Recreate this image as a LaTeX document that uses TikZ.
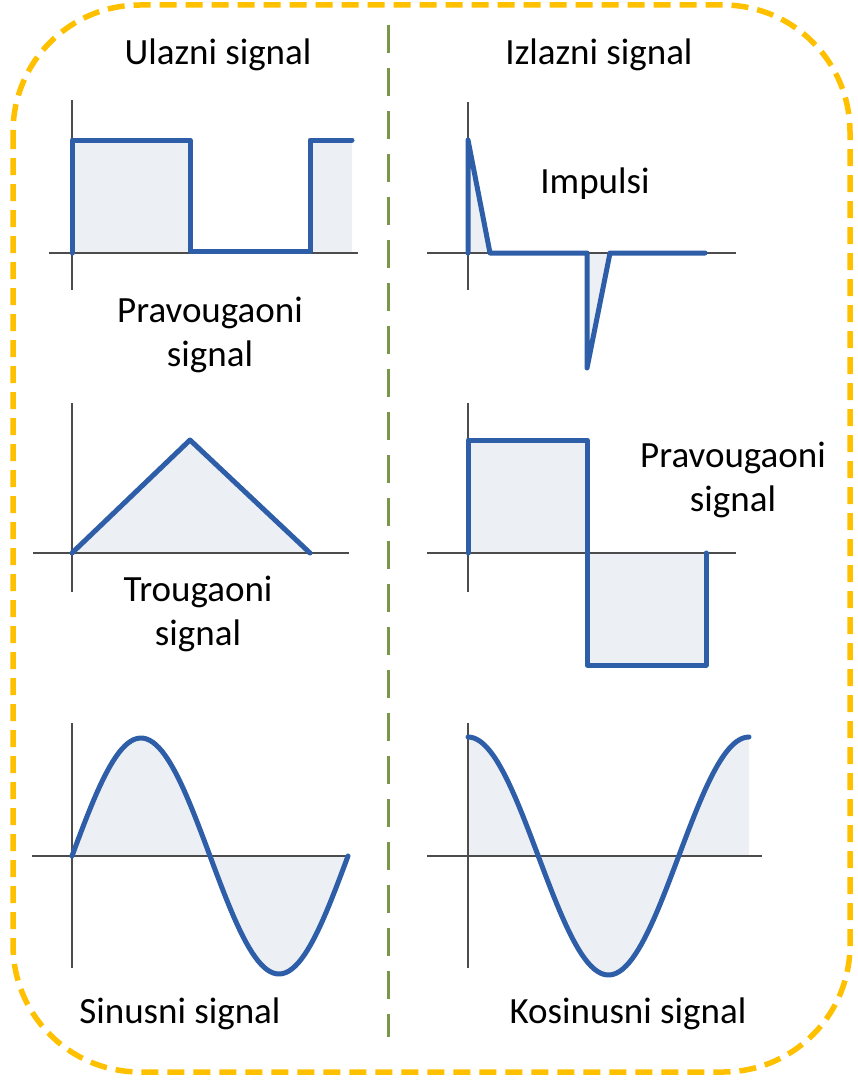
\documentclass[tikz,border=0pt]{standalone}
\usepackage{fontspec}
\setmainfont{Carlito}
\usetikzlibrary{positioning}

\definecolor{sigblue}{RGB}{46,94,168}
\definecolor{sigfill}{RGB}{236,240,245}
\definecolor{frameorange}{RGB}{255,192,0}
\definecolor{sepgreen}{RGB}{122,150,72}

\begin{document}
\begin{tikzpicture}[
        x=1pt, y=-1pt,
        axis/.style={draw=black!70, line width=2pt},
        sig/.style={draw=sigblue, line width=5pt, line join=round, line cap=round},
        area/.style={fill=sigfill},
        lbl/.style={font=\fontsize{37}{44}\selectfont, align=center, inner sep=0pt}
    ]
    \useasboundingbox (0,0) rectangle (858,1081);

    % frame and separator
    \draw[frameorange, line width=5.5pt, dash pattern=on 17pt off 9pt, rounded corners=127pt] (13,5) rectangle (850,1072);
    \draw[sepgreen, line width=3pt, dash pattern=on 28pt off 15pt] (388,25) -- (388,1037);

    % shaded areas
    \fill[area] (72,140) rectangle (190,253) (310,140) rectangle (352,253);
    \fill[area] (468,253) -- (468,140) -- (490,253) -- cycle (587,253) -- (587,368) -- (610,253) -- cycle;
    \fill[area] (72,553) -- (190,440) -- (310,553) -- cycle;
    \fill[area] (468,440) rectangle (587,553) (587,553) rectangle (706,665);
    \fill[area] plot[domain=0:360, samples=90] ({72+\x/360*276},{856-118*sin(\x)}) -- cycle;
    \fill[area] (468,856) -- plot[domain=0:360, samples=90] ({468+\x/360*281},{856-119*cos(\x)}) -- (749,856) -- cycle;

    % axes
    \foreach \vx/\vt/\vb/\hy/\hl/\hr in {72/100/290/253/49/358, 468/102/290/253/427/736,
            72/403/592/553/33/349, 468/403/592/553/427/736,
            72/723/968/856/32/347, 468/723/968/856/427/762} {
        \draw[axis] (\vx,\vt) -- (\vx,\vb);
        \draw[axis] (\hl,\hy) -- (\hr,\hy);
    }

    % signals
    \draw[sig] (72,253) -- (72,140) -- (190,140) -- (190,251) -- (310,251) -- (310,140) -- (352,140);
    \draw[sig] (468,253) -- (468,140) -- (490,253) -- (587,253) -- (587,368) -- (610,253) -- (705,253);
    \draw[sig] (72,553) -- (190,440) -- (310,553);
    \draw[sig] (468,553) -- (468,440) -- (587,440) -- (587,665) -- (706,665) -- (706,553);
    \draw[sig] plot[domain=0:360, samples=90] ({72+\x/360*276},{856-118*sin(\x)});
    \draw[sig] plot[domain=0:360, samples=90] ({468+\x/360*281},{856-119*cos(\x)});

    % labels
    \node[lbl, anchor=base] (ulaz) at (218,64) {Ulazni signal};
    \node[lbl, anchor=base] (izlaz) at (599,64) {Izlazni signal};
    \node[lbl] (pravIn) at (210,335) {Pravougaoni\\signal};
    \node[lbl, anchor=base] (impulsi) at (595,193) {Impulsi};
    \node[lbl] (trougIn) at (198,614) {Trougaoni\\signal};
    \node[lbl] (pravOut) at (733,480) {Pravougaoni\\signal};
    \node[lbl, anchor=base] (sinus) at (180,1023) {Sinusni signal};
    \node[lbl, anchor=base] (kosinus) at (628,1023) {Kosinusni signal};
\end{tikzpicture}
\end{document}
